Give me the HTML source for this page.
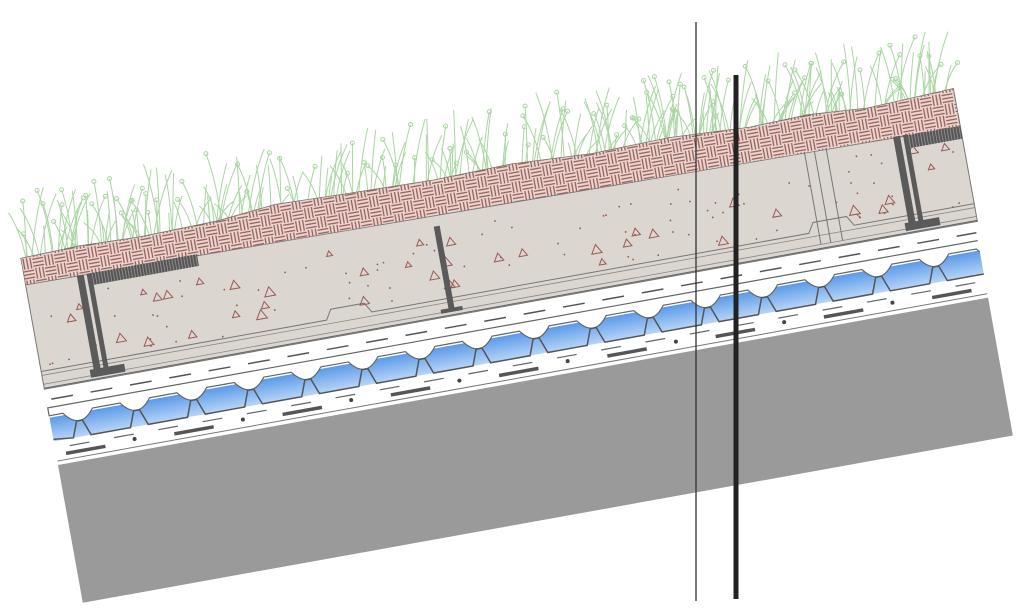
<!DOCTYPE html>
<html><head><meta charset="utf-8"><style>html,body{margin:0;padding:0;background:#fff;width:1024px;height:609px;overflow:hidden}</style></head>
<body>
<svg id="s" width="1024" height="609" viewBox="0 0 1024 609" xmlns="http://www.w3.org/2000/svg">
<defs>
<pattern id="brick" width="22" height="22" patternUnits="userSpaceOnUse">
<rect width="22" height="22" fill="#ead8d2"/>
<g stroke="#9a5a55" stroke-width="1.3">
<line x1="0" y1="2" x2="11" y2="2"/><line x1="0" y1="5.5" x2="11" y2="5.5"/><line x1="0" y1="9" x2="11" y2="9"/>
<line x1="13" y1="0" x2="13" y2="11"/><line x1="16.5" y1="0" x2="16.5" y2="11"/><line x1="20" y1="0" x2="20" y2="11"/>
<line x1="2" y1="11" x2="2" y2="22"/><line x1="5.5" y1="11" x2="5.5" y2="22"/><line x1="9" y1="11" x2="9" y2="22"/>
<line x1="11" y1="13" x2="22" y2="13"/><line x1="11" y1="16.5" x2="22" y2="16.5"/><line x1="11" y1="20" x2="22" y2="20"/>
</g></pattern>
<pattern id="grate" width="3" height="3" patternUnits="userSpaceOnUse">
<rect width="3" height="3" fill="#555"/><line x1="1.5" y1="0" x2="1.5" y2="3" stroke="#999" stroke-width="0.8"/></pattern>
<linearGradient id="blue" x1="0" y1="0" x2="0" y2="1"><stop offset="0" stop-color="#5b9be8"/><stop offset="1" stop-color="#b7d4f7"/></linearGradient>
<clipPath id="cl"><rect x="-5" y="-80" width="950" height="80"/></clipPath>
</defs>
<g id="grass" stroke="#a9d6a2" stroke-width="1" fill="none"></g>
<g id="L" transform="translate(58,465) rotate(-10.2)">
<rect x="0" y="0" width="945" height="140" fill="#9a9a9a"/>
<rect x="0" y="-185" width="948" height="108" fill="#dcd6d0" stroke="#777" stroke-width="1"/>
<path d="M0,-95 L290,-95 L296,-105 L330,-105 L336,-95 L780,-95 L786,-105 L820,-105 L826,-95 L948,-95" fill="none" stroke="#777" stroke-width="1"/>
<path d="M0,-91 L948,-91" stroke="#888" stroke-width="0.8"/>
<line x1="0" y1="-78" x2="948" y2="-78" stroke="#666" stroke-width="1"/>
<line x1="0" y1="-82" x2="948" y2="-82" stroke="#888" stroke-width="0.8"/>
<line x1="790" y1="-180" x2="790" y2="-82" stroke="#777"/><line x1="800" y1="-180" x2="800" y2="-82" stroke="#777"/><line x1="812" y1="-180" x2="812" y2="-82" stroke="#777"/>
<g id="spk"></g>
<path id="brk" d="M0,-210 L60,-212 L120,-210 L200,-212 L260,-218 L330,-216 L420,-214 L500,-216 L580,-212 L660,-214 L740,-210 L800,-212 L860,-208 L948,-212 L948,-173 L0,-183 Z" fill="url(#brick)" stroke="#777" stroke-width="0.8"/>
<rect x="62" y="-183" width="112" height="12" fill="url(#grate)"/>
<rect x="895" y="-174" width="53" height="13" fill="url(#grate)"/>
<rect x="52" y="-183" width="7" height="100" fill="#5a5a5a"/><rect x="62" y="-183" width="5" height="100" fill="#5a5a5a"/>
<rect x="48" y="-88" width="35" height="8" fill="#5a5a5a"/>
<rect x="412" y="-168" width="6" height="84" fill="#5a5a5a"/><rect x="404" y="-85" width="22" height="4" fill="#5a5a5a"/>
<rect x="880" y="-175" width="7" height="92" fill="#5a5a5a"/><rect x="890" y="-175" width="5" height="92" fill="#5a5a5a"/>
<rect x="876" y="-88" width="35" height="8" fill="#5a5a5a"/>
<g clip-path="url(#cl)"><g id="sheet"></g><g id="dash"></g></g>
</g>
<line x1="696" y1="22" x2="696" y2="601" stroke="#333" stroke-width="1.3"/>
<line x1="736" y1="75" x2="736" y2="599" stroke="#222" stroke-width="5"/>
</svg>
<script>
var NS="http://www.w3.org/2000/svg";
function el(p,t,a){var e=document.createElementNS(NS,t);for(var k in a)e.setAttribute(k,a[k]);p.appendChild(e);return e;}
var seed=7;function r(){seed=(seed*16807)%2147483647;return seed/2147483647;}
var sh=document.getElementById('sheet');
el(sh,'rect',{x:0,y:-48,width:948,height:24,fill:'url(#blue)'});
var d="M0,-50",d2="M0,-26";
for(var x=0;x<948;x+=58){
 d+=" L"+(x+14)+",-50 Q"+(x+29)+",-30 "+(x+44)+",-50 L"+(x+58)+",-50";
 d2+=" L"+(x+20)+",-24 L"+(x+26)+",-40 L"+(x+32)+",-40 L"+(x+38)+",-24 L"+(x+58)+",-24";
}
el(sh,'path',{d:d+" L948,-58 L0,-58 Z",fill:'#fff',stroke:'#666','stroke-width':1.2});
el(sh,'path',{d:d2,fill:'none',stroke:'#555','stroke-width':1.5});
var ds=document.getElementById('dash');
for(var x=5;x<945;x+=40){el(ds,'line',{x1:x,y1:-66,x2:x+22,y2:-66,stroke:'#555','stroke-width':1.5});}
for(var x=5;x<945;x+=45){el(ds,'line',{x1:x+10,y1:-17,x2:x+30,y2:-17,stroke:'#666','stroke-width':1.2});}
for(var x=10;x<945;x+=110){el(ds,'line',{x1:x,y1:-10,x2:x+40,y2:-10,stroke:'#555','stroke-width':3.5});el(ds,'circle',{cx:x+70,cy:-12,r:2,fill:'#444'});}
el(ds,'line',{x1:0,y1:-4,x2:948,y2:-4,stroke:'#777','stroke-width':1});
var sp=document.getElementById('spk');
for(var i=0;i<90;i++){var x=10+r()*930,y=-165+r()*70;el(sp,'circle',{cx:x,cy:y,r:0.9,fill:'#9a5a55'});}
for(var i=0;i<40;i++){var x=15+r()*920,y=-160+r()*60,s=3+r()*2.5;el(sp,'path',{d:"M"+x+","+(y-s)+" L"+(x+s)+","+(y+s*0.7)+" L"+(x-s)+","+(y+s*0.7)+"Z",fill:'none',stroke:'#9a5a55','stroke-width':1});}
var g=document.getElementById('grass');
var th=10.2*Math.PI/180,c=Math.cos(th),s=Math.sin(th);
for(var i=0;i<300;i++){
 var lx=5+r()*940;var ly=-206;
 var bx=58+lx*c+ly*s, by=465-lx*s+ly*c;
 var h=20+r()*55,dx=(r()-0.5)*40;
 var tx=bx+dx,ty=by-h;
 el(g,'path',{d:"M"+bx+","+by+" Q"+(bx+dx*0.3)+","+(by-h*0.6)+" "+tx+","+ty});
 if(r()<0.35)el(g,'circle',{cx:tx,cy:ty,r:2});
}
</script>
</body></html>
